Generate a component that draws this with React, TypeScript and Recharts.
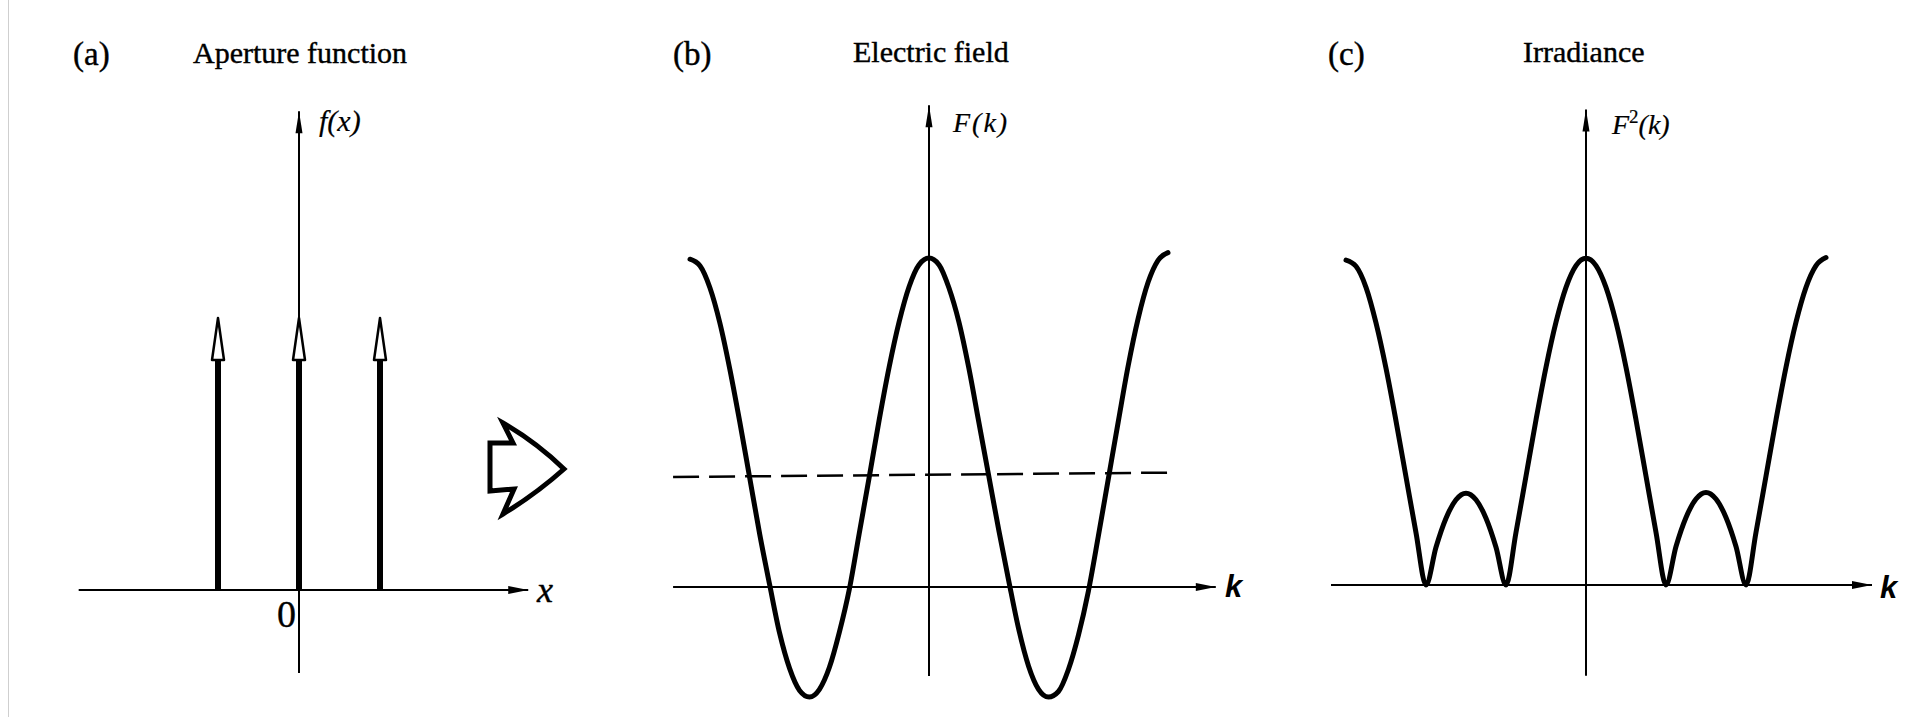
import React from 'react';
import { ComposedChart, LineChart, Line, XAxis, YAxis, ReferenceLine, ReferenceDot } from 'recharts';

// k sample positions, in 1/24ths of one fringe period
const kSteps = [
  -24, -23, -22, -21, -20, -19, -18, -17, -16, -15, -14, -13, -12, -11, -10, -9, -8, -7, -6, -5, -4, -3, -2, -1,
  0, 1, 2, 3, 4, 5, 6, 7, 8, 9, 10, 11, 12, 13, 14, 15, 16, 17, 18, 19, 20, 21, 22, 23, 24,
];

// F(k), the diffracted field of three slits
const fieldValues = [
  2.98, 2.92, 2.72, 2.4, 1.98, 1.5, 0.99, 0.48, 0.02, -0.42, -0.74, -0.94, -1.0, -0.93, -0.73, -0.41, -0.02, 0.49,
  1.0, 1.52, 2.0, 2.41, 2.73, 2.93, 2.99, 2.93, 2.72, 2.41, 1.99, 1.5, 1.01, 0.52, 0.06, -0.38, -0.72, -0.93, -1.0,
  -0.95, -0.75, -0.44, -0.04, 0.46, 0.98, 1.5, 2.01, 2.44, 2.77, 2.97, 3.04,
];

// F²(k), the irradiance
const irradianceValues = [
  8.95, 8.78, 8.2, 7.22, 5.97, 4.52, 2.98, 1.44, 0, 1.04, 1.84, 2.35, 2.53, 2.35, 1.84, 1.04, 0, 1.45, 3.0, 4.55,
  6.0, 7.24, 8.2, 8.8, 9.0, 8.8, 8.2, 7.24, 6.0, 4.55, 3.0, 1.45, 0, 1.06, 1.86, 2.37, 2.55, 2.37, 1.86, 1.06, 0,
  1.45, 3.0, 4.55, 6.0, 7.24, 8.2, 8.8, 9.02,
];

// aperture: three equal delta spikes
const slitPositions = [-1, 0, 1];
const slitHeights = [1, 1, 1];

// mean level of the field (dashed), left and right ends
const fieldMean = [1.0, 1.04];

const fieldData = kSteps.map((k, i) => ({ k, F: fieldValues[i] }));
const irradianceData = kSteps.map((k, i) => ({ k, F: irradianceValues[i] }));
const slitData = slitPositions.map((x, i) => ({ x, h: slitHeights[i] }));

type Frame = { left: number; top: number; width: number; height: number; ox: number; oy: number; sx: number; sy: number };

// pixel box, origin and pixels per unit of each panel
const frameA: Frame = { left: 60, top: 90, width: 500, height: 600, ox: 299, oy: 590, sx: 81, sy: 272 };
const frameB: Frame = { left: 660, top: 90, width: 600, height: 620, ox: 929, oy: 587, sx: 239 / 24, sy: 110 };
const frameC: Frame = { left: 1310, top: 90, width: 600, height: 620, ox: 1586, oy: 585, sx: 10, sy: 36.3 };

// axis extents in data units: [xFrom, xTo, yFrom, yTo]
const axesA = [-2.72, 2.83, -0.305, 1.76];
const axesB = [-25.7, 28.8, -0.81, 4.38];
const axesC = [-25.5, 28.6, -2.5, 13.1];
const dashEndB = 24.3;

const SERIF = '"Liberation Serif", "Times New Roman", serif';
const SANS = '"Liberation Sans", Arial, sans-serif';

const xDomain = (f: Frame) => [(f.left - f.ox) / f.sx, (f.left + f.width - f.ox) / f.sx];
const yDomain = (f: Frame) => [(f.oy - f.top - f.height) / f.sy, (f.oy - f.top) / f.sy];

const arrowRight = (p: any) => (
  <polygon points={`${p.cx},${p.cy} ${p.cx - 20},${p.cy - 4} ${p.cx - 20},${p.cy + 4}`} fill="#000" />
);
const arrowUp = (p: any) => (
  <polygon points={`${p.cx},${p.cy} ${p.cx - 3.5},${p.cy + 22} ${p.cx + 3.5},${p.cy + 22}`} fill="#000" />
);
const hollowHead = (p: any) => (
  <polygon
    points={`${p.cx},${p.cy} ${p.cx - 6},${p.cy + 42} ${p.cx + 6},${p.cy + 42}`}
    fill="#fff"
    stroke="#000"
    strokeWidth={2.5}
    strokeLinejoin="round"
  />
);

function axisMarks(key: string, a: number[]) {
  return [
    <ReferenceLine key={key + 'h'} segment={[{ x: a[0], y: 0 }, { x: a[1], y: 0 }]} stroke="#000" strokeWidth={2} />,
    <ReferenceLine key={key + 'v'} segment={[{ x: 0, y: a[2] }, { x: 0, y: a[3] }]} stroke="#000" strokeWidth={2} />,
    <ReferenceDot key={key + 'ah'} x={a[1]} y={0} shape={arrowRight} />,
    <ReferenceDot key={key + 'av'} x={0} y={a[3]} shape={arrowUp} />,
  ];
}

const boxStyle = (f: Frame): React.CSSProperties => ({ position: 'absolute', left: f.left, top: f.top });

function hiddenAxes(f: Frame, key: string) {
  return [
    <XAxis key="x" type="number" dataKey={key} domain={xDomain(f)} allowDataOverflow hide height={0} />,
    <YAxis key="y" type="number" domain={yDomain(f)} allowDataOverflow hide width={0} />,
  ];
}

export default function App() {
  const margin = { top: 0, right: 0, bottom: 0, left: 0 };
  return (
    <div style={{ position: 'absolute', left: 0, top: 0, width: 1912, height: 717, background: '#fff', overflow: 'hidden' }}>
      {/* (a) aperture function */}
      <ComposedChart width={frameA.width} height={frameA.height} data={slitData} margin={margin} style={boxStyle(frameA)}>
        {hiddenAxes(frameA, 'x')}
        {axisMarks('a', axesA)}
        {slitData.map((s) => (
          <ReferenceLine
            key={'stem' + s.x}
            segment={[{ x: s.x, y: 0 }, { x: s.x, y: s.h * 0.85 }]}
            stroke="#000"
            strokeWidth={6}
          />
        ))}
        {slitData.map((s) => (
          <ReferenceDot key={'head' + s.x} x={s.x} y={s.h} shape={hollowHead} />
        ))}
      </ComposedChart>

      {/* (b) electric field */}
      <LineChart width={frameB.width} height={frameB.height} data={fieldData} margin={margin} style={boxStyle(frameB)}>
        {hiddenAxes(frameB, 'k')}
        {axisMarks('b', axesB)}
        <ReferenceLine
          segment={[{ x: axesB[0], y: fieldMean[0] }, { x: dashEndB, y: fieldMean[1] }]}
          stroke="#000"
          strokeWidth={2.5}
          strokeDasharray="26 10"
        />
        <Line
          type="monotone"
          dataKey="F"
          stroke="#000"
          strokeWidth={5}
          strokeLinecap="round"
          dot={false}
          isAnimationActive={false}
        />
      </LineChart>

      {/* (c) irradiance */}
      <LineChart width={frameC.width} height={frameC.height} data={irradianceData} margin={margin} style={boxStyle(frameC)}>
        {hiddenAxes(frameC, 'k')}
        {axisMarks('c', axesC)}
        <Line
          type="monotone"
          dataKey="F"
          stroke="#000"
          strokeWidth={5}
          strokeLinecap="round"
          dot={false}
          isAnimationActive={false}
        />
      </LineChart>

      {/* titles, axis labels and the transform arrow */}
      <svg width={1912} height={717} style={{ position: 'absolute', left: 0, top: 0, pointerEvents: 'none' }}>
        <line x1={8.5} y1={0} x2={8.5} y2={717} stroke="#cfcfcf" strokeWidth={1} />
        <g fontFamily={SERIF} fill="#000" stroke="#000" strokeWidth={0.4}>
          <text x={73} y={65} fontSize={33}>(a)</text>
          <text x={193} y={63} fontSize={30}>Aperture function</text>
          <text x={673} y={65} fontSize={33}>(b)</text>
          <text x={853} y={62} fontSize={30}>Electric field</text>
          <text x={1328} y={65} fontSize={33}>(c)</text>
          <text x={1523} y={62} fontSize={30}>Irradiance</text>

          <text x={319} y={131} fontSize={30} fontStyle="italic" strokeWidth={0.2}>f(x)</text>
          <text x={953} y={132} fontSize={28} fontStyle="italic" letterSpacing={2} strokeWidth={0.2}>F(k)</text>
          <text x={1612} y={134} fontSize={28} fontStyle="italic" strokeWidth={0.2}>
            F<tspan dy={-11} fontSize={19} fontStyle="normal">2</tspan>
            <tspan dy={11}>(k)</tspan>
          </text>

          <text x={537} y={602} fontSize={36} fontStyle="italic">x</text>
          <text x={277} y={627} fontSize={38}>0</text>
        </g>
        <g fontFamily={SANS} fontWeight="bold" fontStyle="italic" fontSize={31} fill="#000">
          <text x={1225} y={597}>k</text>
          <text x={1880} y={598}>k</text>
        </g>
        <path
          d="M490,443 L513,443 L503,423 Q536,442 564,469 Q536,494 503,514 L514,489 L490,491 Z"
          fill="#fff"
          stroke="#000"
          strokeWidth={5}
          strokeLinejoin="miter"
        />
      </svg>
    </div>
  );
}
